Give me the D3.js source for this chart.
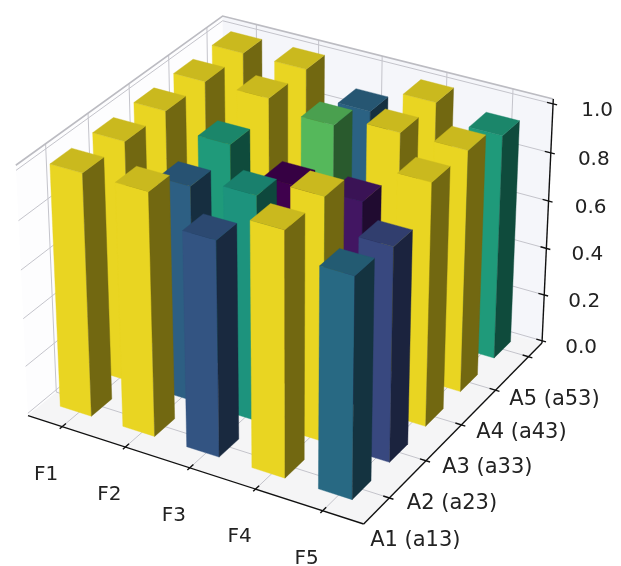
<!DOCTYPE html>
<html><head><meta charset="utf-8">
<script src="https://cdn.jsdelivr.net/npm/d3@7"></script>
<style>html,body{margin:0;background:#fff}svg{display:block;filter:blur(0.6px)}text{font-family:"DejaVu Sans";fill:#222}</style>
</head><body><svg id="c" width="621" height="566"></svg>
<script>
const xLabels=["F1","F2","F3","F4","F5"];
const yLabels=["A1 (a13)","A2 (a23)","A3 (a33)","A4 (a43)","A5 (a53)"];
const zTicks=[0,0.2,0.4,0.6,0.8,1.0];
const rowF1=[1,1,1,1,1];
const rowF2=[1,0.893,0.935,1,1];
const rowF3=[0.885,0.93,0.84,0.96,0.895];
const rowF4=[1,1,0.85,1,1];
const rowF5=[0.9,0.878,1,1,0.935];
const heights=[rowF1,rowF2,rowF3,rowF4,rowF5];
const xLim=[-0.55,4.6], yLim=[-0.68,4.42], zLim=[-0.01,1.02];
const barOffX=-0.27, barOffY=-0.32, barSize=0.5;

const svg=d3.select("#c");
const s=1.8294640721620434*25/24/Math.hypot(4,4,3);
const A=[4*s,4*s,3*s];
const xW=d3.scaleLinear().domain(xLim).range([0,A[0]]);
const yW=d3.scaleLinear().domain(yLim).range([0,A[1]]);
const zW=d3.scaleLinear().domain(zLim).range([0,A[2]]);
const el=30*Math.PI/180, az=-60*Math.PI/180, dist=10;
const E=[Math.cos(el)*Math.cos(az),Math.cos(el)*Math.sin(az),Math.sin(el)];
const eye=[A[0]/2+dist*E[0],A[1]/2+dist*E[1],A[2]/2+dist*E[2]];
const cross=(a,b)=>[a[1]*b[2]-a[2]*b[1],a[2]*b[0]-a[0]*b[2],a[0]*b[1]-a[1]*b[0]];
const dot=(a,b)=>a[0]*b[0]+a[1]*b[1]+a[2]*b[2];
let U=cross([0,0,1],E);const n=Math.hypot(...U);U=U.map(d=>d/n);
const Vv=cross(E,U);
function cam(x,y,z){const d=[xW(x)-eye[0],yW(y)-eye[1],zW(z)-eye[2]];const w=-dot(E,d);return [dot(U,d)/w,dot(Vv,d)/w];}
const sx=d3.scaleLinear().domain([cam(xLim[0],yLim[0],zLim[0])[0],cam(xLim[1],yLim[1],zLim[0])[0]]).range([28,542]);
const sy=d3.scaleLinear().domain([cam(xLim[1],yLim[0],zLim[0])[1],cam(xLim[0],yLim[1],zLim[1])[1]]).range([524,16]);
const P=(x,y,z)=>{const c=cam(x,y,z);return [sx(c[0]),sy(c[1])];};
const line=d3.line();
const poly=pts=>line(pts.map(p=>P(...p)))+"Z";
const [x0,x1]=xLim,[y0,y1]=yLim,[z0,z1]=zLim;

// panes
svg.append("path").attr("d",poly([[x0,y0,z0],[x0,y1,z0],[x0,y1,z1],[x0,y0,z1]])).attr("fill","#fdfdfe");
svg.append("path").attr("d",poly([[x0,y1,z0],[x1,y1,z0],[x1,y1,z1],[x0,y1,z1]])).attr("fill","#f5f6fa");
svg.append("path").attr("d",poly([[x0,y0,z0],[x1,y0,z0],[x1,y1,z0],[x0,y1,z0]])).attr("fill","#f5f5f6");

// grid
const gridC="#c4c4cb", grid=svg.append("g").attr("fill","none").attr("stroke",gridC).attr("stroke-width",1);
const gl=pts=>grid.append("path").attr("d",line(pts.map(p=>P(...p))));
d3.range(xLabels.length).forEach(i=>gl([[i,y0,z0],[i,y1,z0],[i,y1,z1]]));
d3.range(yLabels.length).forEach(i=>gl([[x1,i,z0],[x0,i,z0],[x0,i,z1]]));
zTicks.forEach(z=>gl([[x1,y1,z],[x0,y1,z],[x0,y0,z]]));
gl([[x0,y0,z1],[x0,y1,z1],[x1,y1,z1]]).attr("stroke-width",1.6).attr("stroke","#bcbcc2");

// bars
const vals=heights.flat();
const color=d3.scaleSequential(d3.interpolateViridis).domain(d3.extent(vals));
const shade=(c,f)=>{const r=d3.rgb(c);return d3.rgb(r.r*f,r.g*f,r.b*f).formatHex();};
const bars=[];
heights.forEach((row,i)=>row.forEach((h,j)=>bars.push({i,j,h})));
bars.sort((a,b)=>(a.i*E[0]+a.j*E[1])-(b.i*E[0]+b.j*E[1]));
const gb=svg.append("g");
bars.forEach(b=>{
  const a0=b.i+barOffX,a1=a0+barSize,c0=b.j+barOffY,c1=c0+barSize,c=color(b.h);
  const face=(pts,f)=>gb.append("path").attr("d",poly(pts)).attr("fill",shade(c,f)).attr("stroke",shade(c,f)).attr("stroke-width",0.4);
  face([[a0,c0,0],[a1,c0,0],[a1,c0,b.h],[a0,c0,b.h]],0.92);
  face([[a1,c0,0],[a1,c1,0],[a1,c1,b.h],[a1,c0,b.h]],0.45);
  face([[a0,c0,b.h],[a1,c0,b.h],[a1,c1,b.h],[a0,c1,b.h]],0.8);
});

// axes
const ax=svg.append("g").attr("fill","none").attr("stroke","#111").attr("stroke-width",1.4);
const al=pts=>ax.append("path").attr("d",line(pts.map(p=>P(...p))));
al([[x0,y0,z0],[x1,y0,z0]]);al([[x1,y0,z0],[x1,y1,z0]]);al([[x1,y1,z0],[x1,y1,z1]]);
const tx=(p,t,fs)=>svg.append("text").attr("x",p[0]).attr("y",p[1]).attr("text-anchor","middle").attr("dominant-baseline","central").attr("font-size",fs).text(t);
xLabels.forEach((t,i)=>{al([[i,y0+0.09,z0],[i,y0-0.06,z0]]);const p=P(i,y0,z0);tx([p[0]-16,p[1]+46],t,20);});
yLabels.forEach((t,i)=>{al([[x1-0.09,i,z0],[x1+0.06,i,z0]]);const p=P(x1,i,z0);tx([p[0]+26,p[1]+41],t,21);});
const zFmt=d3.format(".1f");
zTicks.forEach(z=>{al([[x1-0.09,y1,z],[x1+0.06,y1,z]]);const p=P(x1,y1,z);tx([p[0]+39+5*z,p[1]+5],zFmt(z),20);});
</script></body></html>
